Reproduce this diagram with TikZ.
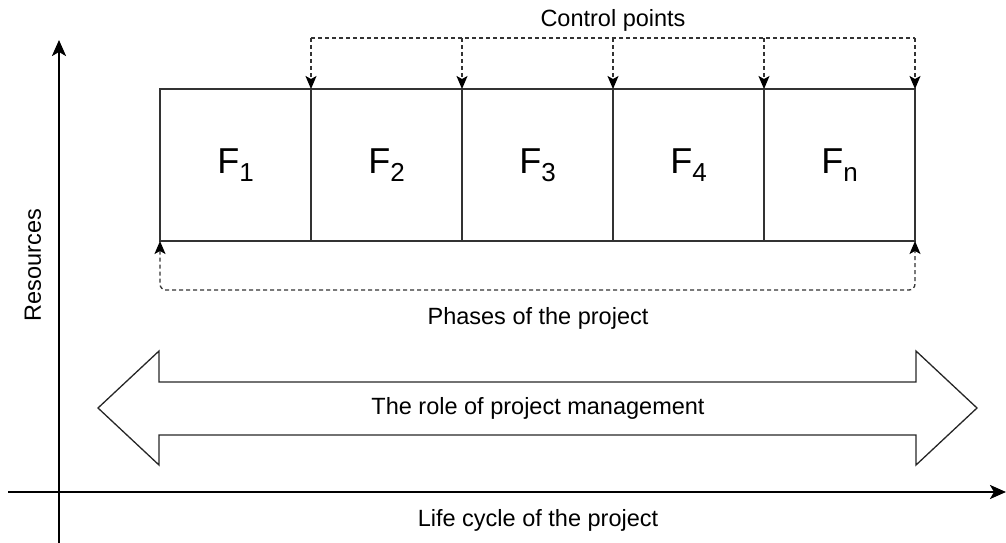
\documentclass[tikz,border=0pt]{standalone}
\usepackage{fontspec}
\setmainfont{Liberation Sans}
\usetikzlibrary{arrows.meta,positioning}
\tikzset{
  phase/.style={draw=black!80,line width=1.2pt,minimum width=151pt,minimum height=152pt,
    inner sep=0pt,outer sep=0pt,font=\fontsize{36}{40}\selectfont},
  cptip/.tip={Stealth[length=13pt,width=11pt,inset=3pt,black]},
  ctrl/.style={draw=black!80,line width=1.3pt,dash pattern=on 4pt off 3pt,-cptip},
  axis/.style={line width=2.5pt,-{Stealth[length=16pt,width=14pt,inset=4pt]}},
  lbl/.style={font=\fontsize{23.5}{26}\selectfont,inner sep=0pt}
}
\newcommand{\ph}[1]{F\raisebox{-8pt}{\fontsize{26}{28}\selectfont #1}}

\begin{document}
\begin{tikzpicture}[x=1pt,y=-1pt]
\useasboundingbox (0,0) rectangle (1006,543);

% axes
\draw[axis] (59,543) -- (59,40);
\draw[axis] (8,492) -- (1006,492);
\node[lbl,rotate=90] (res) at (33,265) {Resources};
\node[lbl,anchor=base] (life) at (538,526) {Life cycle of the project};

% phases
\node[phase] (f1) at (235.5,165) {\ph{1}};
\node[phase,right=0pt of f1] (f2) {\ph{2}};
\node[phase,right=0pt of f2] (f3) {\ph{3}};
\node[phase,right=0pt of f3] (f4) {\ph{4}};
\node[phase,right=0pt of f4] (fn) {\ph{n}};

% control points
\coordinate (cp) at (0,38);
\node[lbl,anchor=base] (cplabel) at (613,27) {Control points};
\draw[draw=black!80,line width=1.3pt,dash pattern=on 4pt off 3pt] (f2.north west |- cp) -- (fn.north east |- cp);
\foreach \p in {f2.north west,f3.north west,f4.north west,fn.north west,fn.north east}
{
  \draw[ctrl] (\p |- cp) -- (\p);
}

% phases of the project
\draw[ctrl,cptip-cptip,rounded corners=6pt]
  (f1.south west) -- ++(0,49) -| (fn.south east);
\node[lbl,anchor=base] (phlabel) at (538,324) {Phases of the project};

% project management arrow
\draw[black!85,line width=1.3pt,line join=miter] (98,408) -- (159,351) -- (159,382) -- (916,382) -- (916,351)
  -- (977,408) -- (916,465) -- (916,435) -- (159,435) -- (159,465) -- cycle;
\node[lbl] (role) at (538,408) {The role of project management};

\end{tikzpicture}
\end{document}
